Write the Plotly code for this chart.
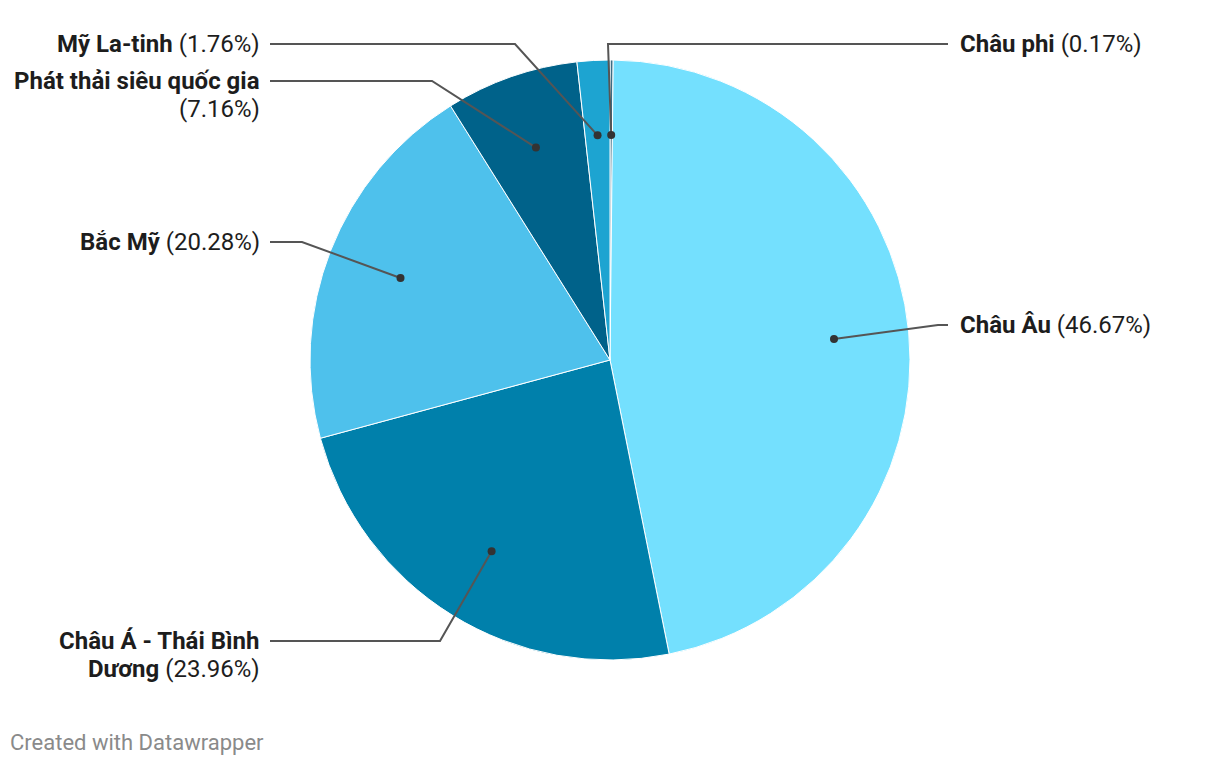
import math
import plotly.graph_objects as go

# ---- data ----
regions = ["Châu phi", "Châu Âu", "Châu Á - Thái Bình Dương", "Bắc Mỹ",
           "Phát thải siêu quốc gia", "Mỹ La-tinh"]
shares = [0.17, 46.67, 23.96, 20.28, 7.16, 1.76]
colors = ["#3B6E86", "#74E0FE", "#0080AB", "#4EC1EC", "#00628A", "#1DA4D1"]

# label layout
label_lines = [["Châu phi"], ["Châu Âu"], ["Châu Á - Thái Bình", "Dương"],
               ["Bắc Mỹ"], ["Phát thải siêu quốc gia", ""], ["Mỹ La-tinh"]]
label_side = ["right", "right", "left", "left", "left", "left"]
label_y = [44, 325, 641, 242, 81, 44]
elbow_x = [608, 938, 440, 302, 432, 515]

W, H = 1220, 766
OFF = 8  # page body margin
CX, CY, R = 610, 360, 300
LEFT_END, LEFT_TEXT = 270, 262
RIGHT_END, RIGHT_TEXT = 948, 958
LINE_H = 28
FONT = "Roboto, Arial, sans-serif"

fig = go.Figure()
fig.add_trace(go.Pie(
    values=shares, labels=regions, sort=False, direction="clockwise", rotation=0,
    marker=dict(colors=colors, line=dict(color="white", width=1)),
    textinfo="none", hoverinfo="label+percent", showlegend=False,
    domain=dict(x=[(CX - OFF - R) / W, (CX - OFF + R) / W],
                y=[(H - (CY - OFF) - R) / H, (H - (CY - OFF) + R) / H]),
))
# invisible trace to make cartesian axes exist
fig.add_trace(go.Scatter(x=[OFF], y=[OFF], mode="markers", marker=dict(opacity=0),
                         hoverinfo="skip", showlegend=False))

total = sum(shares)
cum = 0.0
annotations = []
shapes = []
for i, v in enumerate(shares):
    mid = (cum + v / 2) / total * 2 * math.pi
    cum += v
    dx = CX + 0.75 * R * math.sin(mid)
    dy = CY - 0.75 * R * math.cos(mid)
    ly = label_y[i]
    end = RIGHT_END if label_side[i] == "right" else LEFT_END
    shapes.append(dict(type="path", xref="x", yref="y", layer="above",
                       path=f"M{dx},{dy} L{elbow_x[i]},{ly} L{end},{ly}",
                       line=dict(color="#555555", width=2)))
    shapes.append(dict(type="circle", xref="x", yref="y", layer="above",
                       x0=dx - 4, x1=dx + 4, y0=dy - 4, y1=dy + 4,
                       fillcolor="#333333", line=dict(width=0)))
    pct = f"({v:.2f}%)"
    lines = label_lines[i]
    texts = []
    for k, l in enumerate(lines):
        t = f"<b>{l}</b>" if l else ""
        if k == len(lines) - 1:
            t = (t + " " + pct) if t else pct
        texts.append(t)
    for k, t in enumerate(texts):
        annotations.append(dict(
            x=RIGHT_TEXT if label_side[i] == "right" else LEFT_TEXT,
            y=ly + k * LINE_H, xref="x", yref="y", text=t, showarrow=False,
            xanchor="left" if label_side[i] == "right" else "right",
            yanchor="middle", font=dict(family=FONT, size=24, color="#1d1d1d")))

annotations.append(dict(
    x=8, y=742, xref="x", yref="y", text="Created with Datawrapper", showarrow=False,
    xanchor="left", yanchor="middle", font=dict(family=FONT, size=22, color="#8a8a8a")))

fig.update_layout(
    width=W, height=H, margin=dict(l=0, r=0, t=0, b=0),
    paper_bgcolor="white", plot_bgcolor="rgba(0,0,0,0)",
    xaxis=dict(range=[OFF, W + OFF], visible=False, fixedrange=True),
    yaxis=dict(range=[H + OFF, OFF], visible=False, fixedrange=True),
    annotations=annotations, shapes=shapes, font=dict(family=FONT),
)
fig.write_html("out.html")
